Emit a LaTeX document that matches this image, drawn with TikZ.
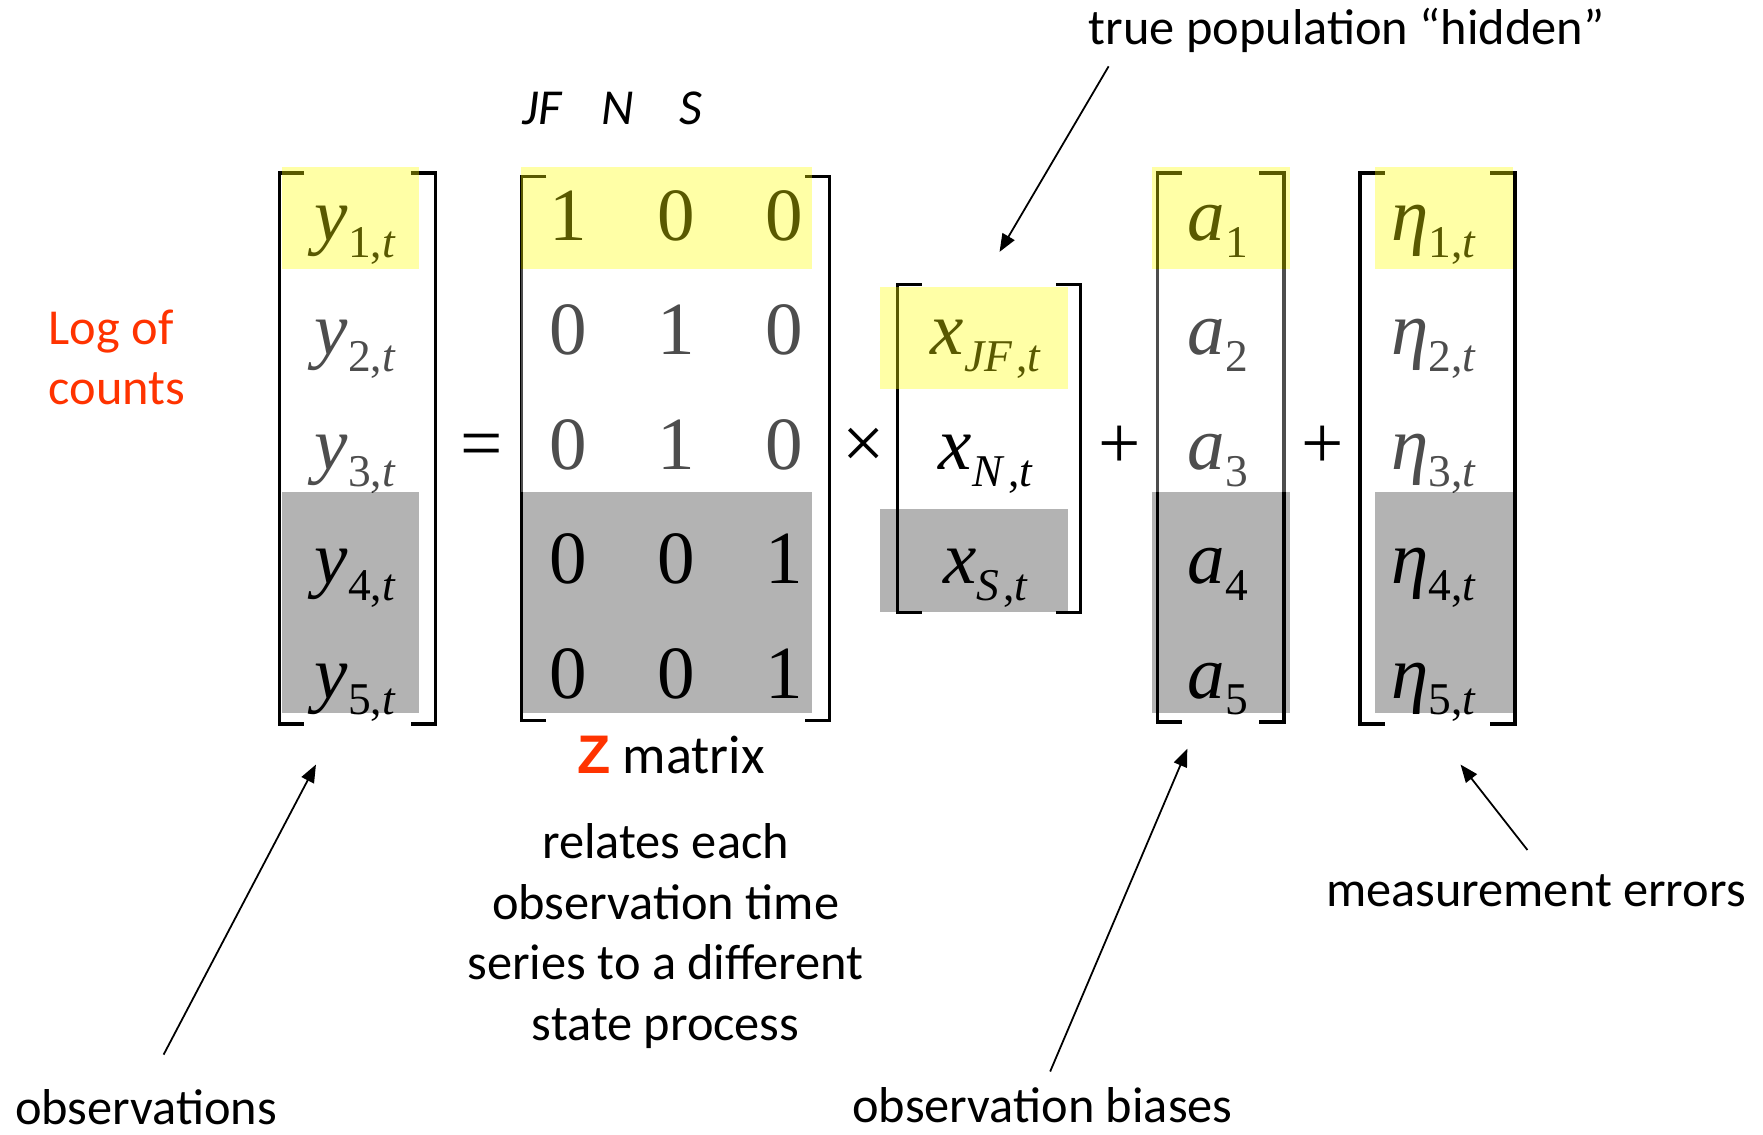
\documentclass[tikz,border=0pt]{standalone}
\usepackage{fontspec}
\setmainfont{Carlito}
\newfontfamily\tnr{Liberation Serif}
\newfontfamily\arl{Liberation Sans}
\usepackage{xcolor}
\usetikzlibrary{arrows.meta,positioning,calc}
\definecolor{hiyel}{HTML}{FFFF00}
\definecolor{shade}{HTML}{B3B3B3}
\definecolor{loc}{HTML}{FF3300}
\newcommand{\vsub}[2]{\textit{#1}\raisebox{-8.5pt}{\fontsize{23}{23}\selectfont #2}}
\tikzset{
  entry/.style={font=\tnr\fontsize{38}{38}\selectfont,anchor=base,inner sep=0pt},
  brk/.style={line width=1.7pt},
  bandg/.style={fill=shade},
  bandw/.style={fill=white,fill opacity=0.3},
  bandy/.style={fill=hiyel,fill opacity=0.35},
  lab/.style={font=\fontsize{25.5}{30.6}\selectfont,inner sep=0pt},
  redlab/.style={lab,text=loc},
  colhead/.style={lab,font=\fontsize{25.5}{30.6}\selectfont\itshape},
  pointer/.style={-{Triangle[length=9pt,width=7pt]},line width=0.9pt},
}
\begin{document}
\begin{tikzpicture}[x=0.2mm,y=-0.2mm]
  \useasboundingbox (0,0) rectangle (1568,1009);
  % grey rows (behind)
  \foreach \l/\r in {250.5/372.6,463/722,1025/1147,1223/1345.5}
    \fill[bandg] (\l,437.3) rectangle (\r,634.4);
  \fill[bandg] (783,453) rectangle (950,544);
  % entries
  \foreach \i in {1,...,5}{
    \node[entry] (y\i) at (316,{214+101.7*(\i-1)}) {\vsub{y}{\i,\textit{t}}};
    \node[entry] (a\i) at (1083,{214+101.7*(\i-1)}) {\vsub{a}{\i}};
    \node[entry] (e\i) at (1275,{214+101.7*(\i-1)}) {\vsub{η}{\i,\textit{t}}};
  }
  \foreach \a/\b/\c [count=\r] in {1/0/0,0/1/0,0/1/0,0/0/1,0/0/1}{
    \node[entry] (z\r1) at (505.5,{214+101.7*(\r-1)}) {\a};
    \node[entry] (z\r2) at (601.2,{214+101.7*(\r-1)}) {\b};
    \node[entry] (z\r3) at (697.3,{214+101.7*(\r-1)}) {\c};
  }
  \foreach \s [count=\i from 2] in {{\textit{JF}\kern2pt,\textit{t}},{\textit{N}\kern2pt,\textit{t}},{\textit{S}\kern2pt,\textit{t}}}
    \node[entry] (x\i) at (877,{214+101.7*(\i-1)}) {\vsub{x}{\s}};
  \node[entry] (eq) at (428,417) {=};
  \node[entry] (times) at (768,417) {×};
  \node[entry] (plusa) at (996,417) {+};
  \node[entry] (pluse) at (1176,417) {+};
  % brackets
  \foreach \l/\r/\t/\b in {248.5/387.5/154/644,464/738/157/641,798/961/253/545,1029.3/1142/154/642,1209.5/1347.4/154/644}{
    \draw[brk] (\l+22,\t) -| (\l,\b) -- (\l+22,\b);
    \draw[brk] (\r-22,\t) -| (\r,\b) -- (\r-22,\b);
  }
  % highlights on top
  \foreach \l/\r in {250.5/372.6,463/722,1025/1147,1223/1345.5}{
    \fill[bandw] (\l,239.5) rectangle (\r,437.3);
    \fill[bandy] (\l,148.8) rectangle (\r,239.5);
  }
  \fill[bandy] (783,255) rectangle (950,346);
  % labels
  \node[colhead,anchor=base west] (cJF) at (464.6,110.3) {JF};
  \node[colhead,anchor=base west] (cN) at (535,110.3) {N};
  \node[colhead,anchor=base west] (cS) at (604,110.3) {S};
  \node[redlab,align=left,anchor=base west] (logc) at (43,360) {Log of\\counts};
  \node[lab,anchor=base west] (hidden) at (968,40) {true population “hidden”};
  \node[lab,font=\fontsize{27.5}{33}\selectfont,anchor=base west] (zlab) at (513,688)
    {\textcolor{loc}{\arl\bfseries Z} matrix};
  \node[lab,align=center,anchor=base] (zdesc) at (592,925) {relates each\\observation time\\series to a different\\state process};
  \node[lab,anchor=base west] (obs) at (13,1000) {observations};
  \node[lab,anchor=base west] (bias) at (757.6,998) {observation biases};
  \node[lab,anchor=base west] (err) at (1179,806) {measurement errors};
  % pointers
  \coordinate (hidtail) at (986,59);      \coordinate (hidtip) at (889,224);
  \coordinate (obstail) at (145.5,938);   \coordinate (obstip) at (281,680);
  \coordinate (biastail) at (934,953);    \coordinate (biastip) at (1056,666);
  \coordinate (errtail) at (1358.5,756);  \coordinate (errtip) at (1299,680);
  \foreach \p in {hid,obs,bias,err} \draw[pointer] (\p tail) -- (\p tip);
\end{tikzpicture}
\end{document}
